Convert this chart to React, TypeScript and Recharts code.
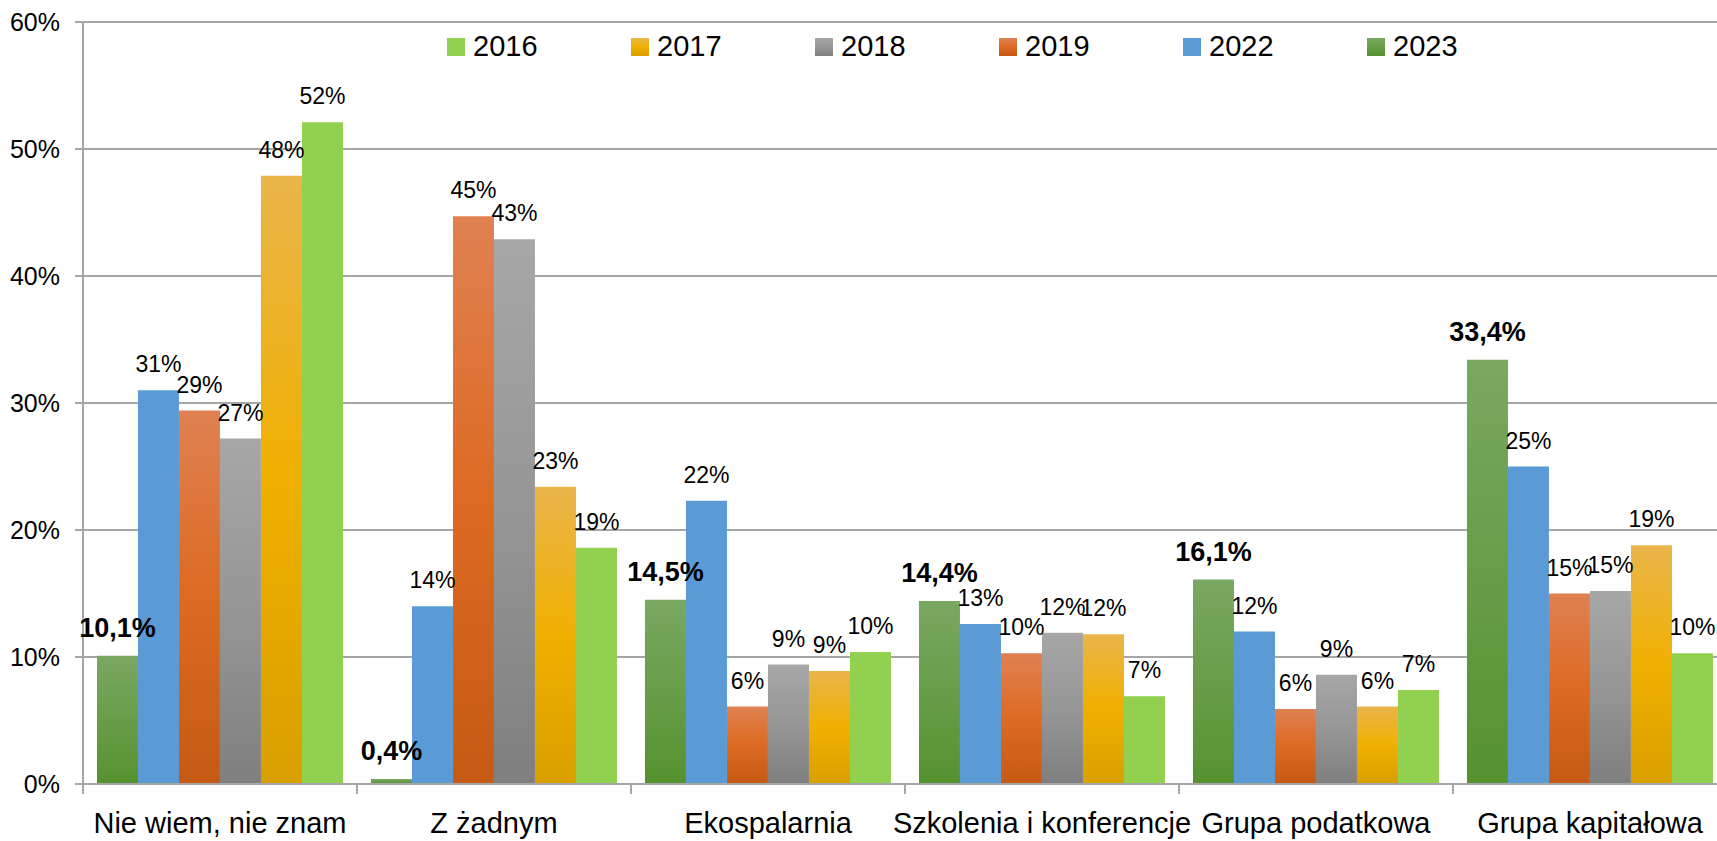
import { BarChart, Bar, XAxis, YAxis, CartesianGrid, Legend, LabelList } from 'recharts'

const CATEGORIES = [
  'Nie wiem, nie znam',
  'Z żadnym',
  'Ekospalarnia',
  'Szkolenia i konferencje',
  'Grupa podatkowa',
  'Grupa kapitałowa',
]

// percent values per year, same order as CATEGORIES
const V2023 = [10.1, 0.4, 14.5, 14.4, 16.1, 33.4]
const V2022 = [31.0, 14.0, 22.3, 12.6, 12.0, 25.0]
const V2019 = [29.4, 44.7, 6.1, 10.3, 5.9, 15.0]
const V2018 = [27.2, 42.9, 9.4, 11.9, 8.6, 15.2]
const V2017 = [47.9, 23.4, 8.9, 11.8, 6.1, 18.8]
const V2016 = [52.1, 18.6, 10.4, 6.9, 7.4, 10.3]

const Y_TICKS = [0, 10, 20, 30, 40, 50, 60]
const LEGEND_YEARS = ['2016', '2017', '2018', '2019', '2022', '2023']

const data = CATEGORIES.map((name, i) => ({
  name,
  y2023: V2023[i],
  y2022: V2022[i],
  y2019: V2019[i],
  y2018: V2018[i],
  y2017: V2017[i],
  y2016: V2016[i],
}))

const FONT = "'Liberation Sans', Arial, sans-serif"
const GRID = '#a6a6a6'
const CAT_W = 274

const FILLS: Record<string, string> = {
  '2023': 'url(#g2023)',
  '2022': '#5b9bd5',
  '2019': 'url(#g2019)',
  '2018': 'url(#g2018)',
  '2017': 'url(#g2017)',
  '2016': '#92d050',
}

const fmtInt = (v: any) => `${Math.round(Number(v))}%`
const fmtDec = (v: any) => `${Number(v).toFixed(1).replace('.', ',')}%`

// category label + small divider tick at the left edge of each band
function CatTick(props: any) {
  const { x, y, payload } = props
  const left = x - CAT_W / 2
  return (
    <g>
      <line x1={left} x2={left} y1={y} y2={y + 10} stroke={GRID} strokeWidth={2} />
      <text x={x} y={y + 49} textAnchor="middle" fontSize={29} fill="#000" fontFamily={FONT}>
        {payload.value}
      </text>
    </g>
  )
}

function YearLegend() {
  return (
    <div style={{ display: 'flex', fontFamily: FONT }}>
      {LEGEND_YEARS.map((y) => (
        <div key={y} style={{ width: 184, display: 'flex', alignItems: 'center' }}>
          <svg width={18} height={18} style={{ marginRight: 8 }}>
            <rect width={18} height={18} fill={FILLS[y]} />
          </svg>
          <span style={{ fontSize: 29, color: '#000' }}>{y}</span>
        </div>
      ))}
    </div>
  )
}

export default function App() {
  return (
    <div
      style={{
        position: 'fixed',
        left: 0,
        top: 0,
        width: 1717,
        height: 841,
        overflow: 'hidden',
        background: '#fff',
      }}
    >
      <BarChart
        width={1740}
        height={841}
        data={data}
        margin={{ top: 22, right: 13, left: 0, bottom: 0 }}
        barCategoryGap="5.1%"
        barGap={0}
      >
        <defs>
          <linearGradient id="g2023" x1="0" y1="0" x2="0" y2="1">
            <stop offset="0%" stopColor="#79a862" />
            <stop offset="100%" stopColor="#56922f" />
          </linearGradient>
          <linearGradient id="g2019" x1="0" y1="0" x2="0" y2="1">
            <stop offset="0%" stopColor="#df8152" />
            <stop offset="50%" stopColor="#dd6a22" />
            <stop offset="100%" stopColor="#c55a14" />
          </linearGradient>
          <linearGradient id="g2018" x1="0" y1="0" x2="0" y2="1">
            <stop offset="0%" stopColor="#a7a7a7" />
            <stop offset="50%" stopColor="#969696" />
            <stop offset="100%" stopColor="#7f7f7f" />
          </linearGradient>
          <linearGradient id="g2017" x1="0" y1="0" x2="0" y2="1">
            <stop offset="0%" stopColor="#eab54b" />
            <stop offset="50%" stopColor="#efb000" />
            <stop offset="100%" stopColor="#d99f00" />
          </linearGradient>
        </defs>
        <CartesianGrid vertical={false} stroke={GRID} strokeWidth={2} />
        <XAxis
          dataKey="name"
          height={57}
          axisLine={{ stroke: GRID, strokeWidth: 2 }}
          tickLine={false}
          tickSize={0}
          tickMargin={0}
          tick={<CatTick />}
          interval={0}
        />
        <YAxis
          width={83}
          domain={[0, 60]}
          ticks={Y_TICKS}
          tickFormatter={(v) => `${v}%`}
          axisLine={{ stroke: GRID, strokeWidth: 2 }}
          tickLine={{ stroke: GRID, strokeWidth: 2 }}
          tickSize={8}
          tickMargin={15}
          tick={{ fontSize: 25, fill: '#000', fontFamily: FONT }}
          allowDataOverflow
        />
        <Legend
          verticalAlign="middle"
          align="center"
          wrapperStyle={{ top: 30, left: 447, width: 1200 }}
          content={() => <YearLegend />}
        />
        <Bar dataKey="y2023" fill={FILLS['2023']} isAnimationActive={false}>
          <LabelList
            dataKey="y2023"
            position="top"
            offset={19}
            formatter={fmtDec}
            fontSize={27}
            fontWeight="bold"
            fill="#000"
            fontFamily={FONT}
          />
        </Bar>
        <Bar dataKey="y2022" fill={FILLS['2022']} isAnimationActive={false}>
          <LabelList dataKey="y2022" position="top" offset={18} formatter={fmtInt} fontSize={23} fill="#000" fontFamily={FONT} />
        </Bar>
        <Bar dataKey="y2019" fill={FILLS['2019']} isAnimationActive={false}>
          <LabelList dataKey="y2019" position="top" offset={18} formatter={fmtInt} fontSize={23} fill="#000" fontFamily={FONT} />
        </Bar>
        <Bar dataKey="y2018" fill={FILLS['2018']} isAnimationActive={false}>
          <LabelList dataKey="y2018" position="top" offset={18} formatter={fmtInt} fontSize={23} fill="#000" fontFamily={FONT} />
        </Bar>
        <Bar dataKey="y2017" fill={FILLS['2017']} isAnimationActive={false}>
          <LabelList dataKey="y2017" position="top" offset={18} formatter={fmtInt} fontSize={23} fill="#000" fontFamily={FONT} />
        </Bar>
        <Bar dataKey="y2016" fill={FILLS['2016']} isAnimationActive={false}>
          <LabelList dataKey="y2016" position="top" offset={18} formatter={fmtInt} fontSize={23} fill="#000" fontFamily={FONT} />
        </Bar>
      </BarChart>
    </div>
  )
}
